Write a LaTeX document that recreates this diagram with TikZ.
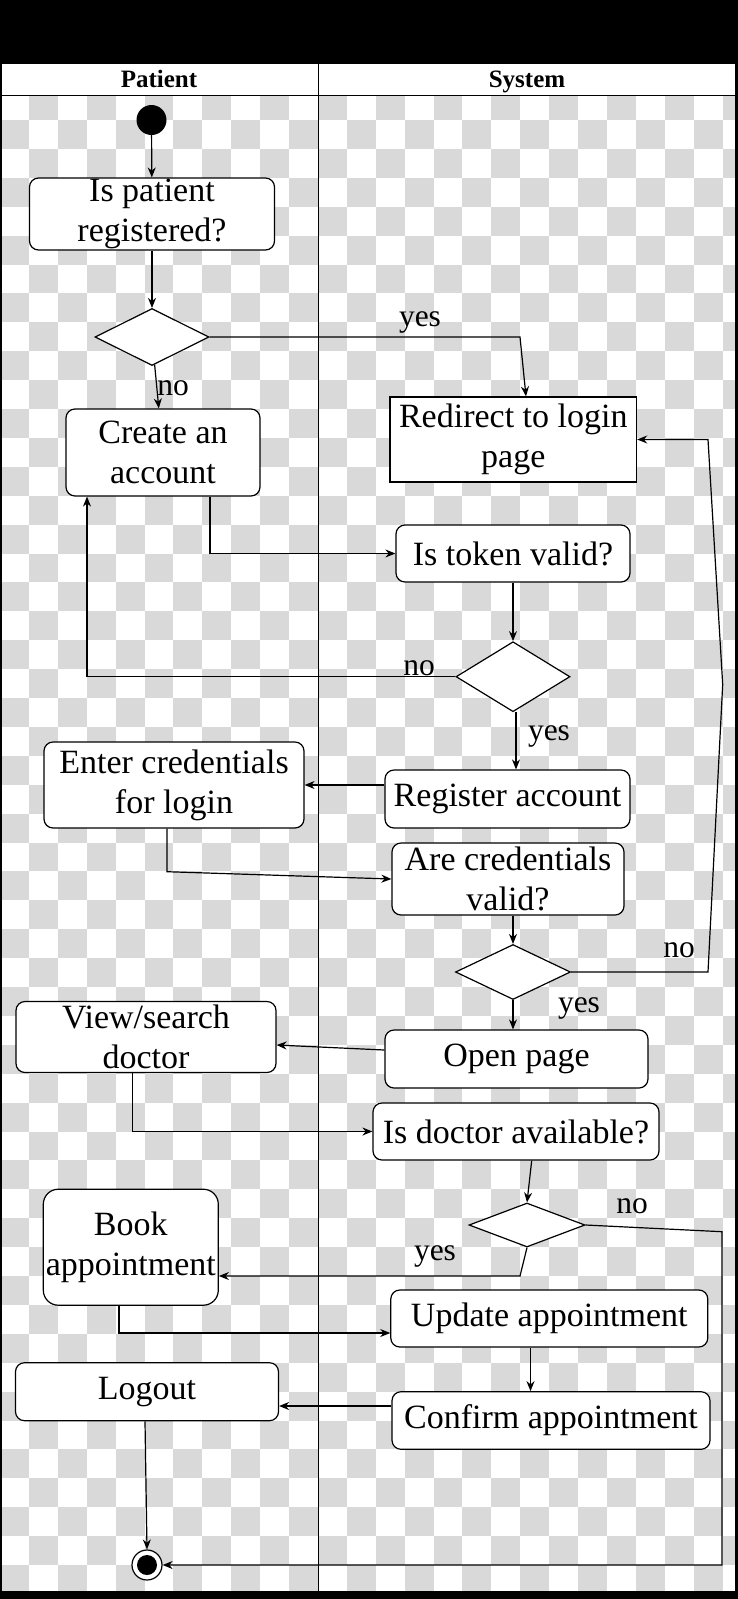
\documentclass[tikz,border=0pt]{standalone}
\usepackage{fontspec}
\setmainfont{Liberation Serif}
\usetikzlibrary{shapes,arrows.meta}
\definecolor{checker}{HTML}{D9D9D9}

\begin{document}
\begin{tikzpicture}[x=1pt,y=-1pt]
  \tikzstyle{act}=[draw,fill=white,rounded corners=9pt,align=center,inner sep=0pt,line width=1.2pt,font=\fontsize{34}{40}\selectfont]
  \tikzstyle{choice}=[diamond,draw,fill=white,inner sep=0pt,line width=1.2pt]
  \tikzstyle{guard}=[inner sep=0pt,font=\fontsize{31.5}{36}\selectfont]
  \tikzstyle{lane}=[inner sep=0pt,anchor=base,font=\fontsize{25}{30}\selectfont\bfseries]
  \tikzstyle{flow}=[line width=1.2pt,-{Stealth[length=10pt,width=8pt]}]
\useasboundingbox (0,0) rectangle (738,1599);
\fill[black] (0,0) rectangle (738,1599);
\fill[white] (1,63) rectangle (735.5,1591.5);
\begin{scope}
\clip (1,95) rectangle (735.5,1591.5);
\foreach \i in {0,...,25}
  \foreach \j in {0,...,26}
    {\pgfmathtruncatemacro{\r}{2*\j+1-mod(\i,2)}
     \fill[checker] (\i*28.9,91.1+\r*28.9) rectangle +(28.9,28.9);}
\end{scope}
\draw[line width=1.5pt] (1,63) rectangle (735.5,1591.5);
\draw[line width=1.2pt] (1,95.5) -- (735.5,95.5);
\draw[line width=1.2pt] (318.5,63) -- (318.5,1591.5);
\node[lane] (patient) at (159,87.3) {Patient};
\node[lane] (system) at (527,87.3) {System};

\node[circle,fill,minimum size=30pt,inner sep=0pt] (start) at (151.5,120) {};
\node[act,minimum width=245pt,minimum height=72pt] (registered) at (152,214) {Is patient\\registered?};
\node[choice,minimum width=114pt,minimum height=57pt] (dreg) at (152,337) {};
\node[act,minimum width=194pt,minimum height=87pt] (create) at (163,452.5) {Create an\\account};
\node[act,sharp corners,minimum width=246.6pt,minimum height=85pt] (redirect) at (513.3,439.5) {Redirect to login\\page};
\node[act,minimum width=234pt,minimum height=57pt] (token) at (513,553.5) {Is token valid?};
\node[choice,minimum width=114pt,minimum height=70pt] (dtoken) at (513,676.7) {};
\node[act,minimum width=245pt,minimum height=58pt] (register) at (507.5,799) {Register account};
\node[act,minimum width=260pt,minimum height=86pt] (enter) at (174,785) {Enter credentials\\for login};
\node[act,minimum width=232pt,minimum height=72pt] (valid) at (508,879) {Are credentials\\valid?};
\node[choice,minimum width=115pt,minimum height=55pt] (dvalid) at (513,972) {};
\node[act,minimum width=263pt,minimum height=58pt] (open) at (516.5,1059) {Open page};
\node[act,minimum width=260pt,minimum height=71pt] (search) at (146,1037) {View/search\\doctor};
\node[act,minimum width=286pt,minimum height=57pt] (available) at (516,1131.5) {Is doctor available?};
\node[choice,minimum width=116pt,minimum height=44pt] (davail) at (527,1225) {};
\node[act,rounded corners=15pt,minimum width=175pt,minimum height=116pt] (book) at (130.8,1247.2) {Book\\appointment};
\node[act,minimum width=317pt,minimum height=57pt] (update) at (549.3,1318.5) {Update appointment};
\node[act,minimum width=318pt,minimum height=57.6pt] (confirm) at (551,1420.5) {Confirm appointment};
\node[act,minimum width=263pt,minimum height=58pt] (logout) at (147,1391.7) {Logout};
\node[circle,draw,fill=white,line width=1.2pt,minimum size=30pt,inner sep=0pt] (end) at (147,1565) {};
\node[circle,fill,minimum size=20pt,inner sep=0pt] (endin) at (end) {};

\draw[flow] (start) -- (registered);
\draw[flow] (registered) -- (dreg);
\draw[flow] (dreg) -- (create);
\draw[flow] (dreg.east) -- (520,337) -- ([xshift=12.7pt]redirect.north);
\draw[flow] ([xshift=47pt]create.south) |- (token.west);
\draw[flow] (token) -- (dtoken);
\draw[flow] (dtoken.west) -| ([xshift=-76pt]create.south);
\draw[flow] ([xshift=3pt]dtoken.south) -- ([xshift=8.5pt]register.north);
\draw[flow] ([yshift=14pt]register.west) -- (enter.east);
\draw[flow] ([xshift=-7pt]enter.south) -- (167,871.7) -- (valid.west);
\draw[flow] ([xshift=5pt]valid.south) -- (dvalid.north);
\draw[flow] (dvalid.east) -- (708,972) -- (722.7,684.5) -- (708,439.5) -- (redirect.east);
\draw[flow] (dvalid.south) -- ([xshift=-3.5pt]open.north);
\draw[flow] ([yshift=9pt]open.west) -- ([yshift=-8pt]search.east);
\draw[flow] ([xshift=-13.4pt]search.south) |- (available.west);
\draw[flow] ([xshift=15.7pt]available.south) -- (davail.north);
\draw[flow] (davail.south) -- (520,1276) -- ([yshift=-28.8pt]book.east);
\draw[flow] (davail.east) -- (722,1231.7) |- (end.east);
\draw[flow] ([xshift=-11.8pt]book.south) |- ([yshift=-14.5pt]update.west);
\draw[flow] ([xshift=-18.8pt]update.south) -- ([xshift=-20.5pt]confirm.north);
\draw[flow] ([yshift=14.5pt]confirm.west) -- ([yshift=-14.3pt]logout.east);
\draw[flow] ([xshift=-2pt]logout.south) -- (end.north);

\node[guard] (no1) at (173,388) {no};
\node[guard] (yes1) at (420,322) {yes};
\node[guard] (no2) at (419,668) {no};
\node[guard] (yes2) at (549,736) {yes};
\node[guard] (no3) at (679,950) {no};
\node[guard] (yes3) at (579,1008) {yes};
\node[guard] (no4) at (632,1206) {no};
\node[guard] (yes4) at (435,1256) {yes};
\end{tikzpicture}
\end{document}
